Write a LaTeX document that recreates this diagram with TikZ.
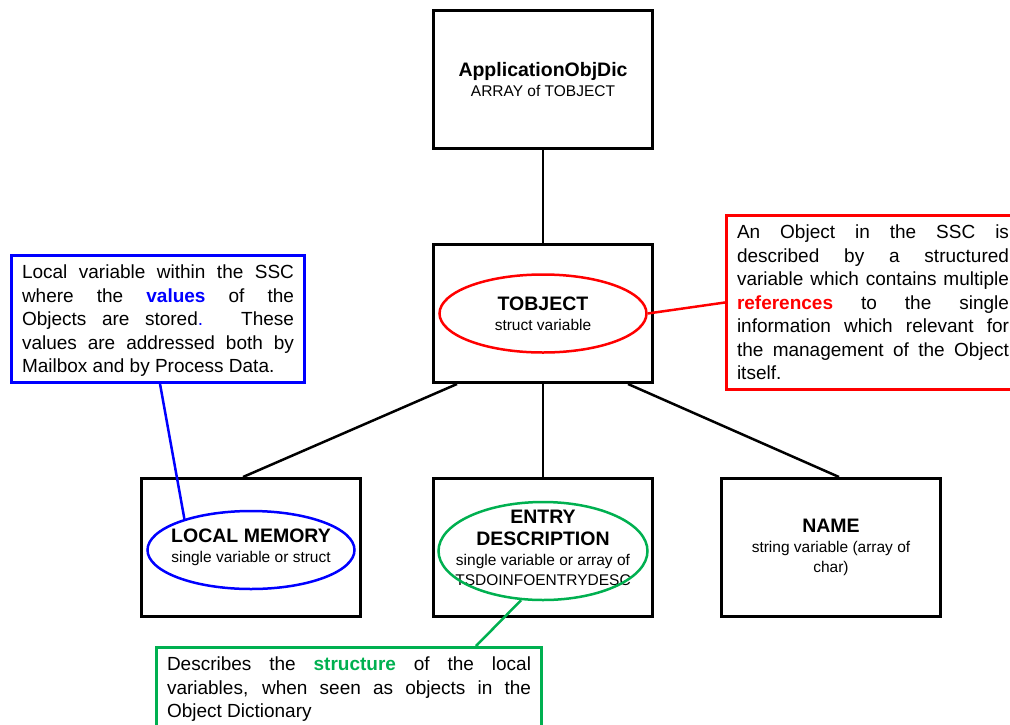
\documentclass[tikz,border=0pt]{standalone}
\usepackage{fontspec}
\setmainfont{Liberation Sans}
\usetikzlibrary{shapes.geometric,positioning}

\definecolor{noteblue}{RGB}{0,0,255}
\definecolor{notered}{RGB}{255,0,0}
\definecolor{notegreen}{RGB}{0,176,80}
\newcommand{\objtitle}[1]{{\fontsize{19.5}{22}\selectfont\bfseries #1}}

\begin{document}
\begin{tikzpicture}[x=1pt, y=1pt, node distance=70pt,
		every node/.style={font=\fontsize{15.5}{20}\selectfont},
		objbox/.style={rectangle, draw, line width=3pt, minimum width=219pt, minimum height=138pt, align=center},
		oval/.style={ellipse, draw, line width=2.5pt, minimum width=207pt, minimum height=78pt, inner sep=0pt},
		note/.style={rectangle, draw, line width=3pt, align=justify, text width=272pt, inner xsep=10.5pt, inner ysep=9.5pt, font=\fontsize{19}{23.5}\selectfont},
		link/.style={line width=2.5pt}]
				\useasboundingbox (0,0) rectangle (1010,-724);
				
				\node[objbox] (dic) at (543,-79.5) {\objtitle{ApplicationObjDic}\\ARRAY of TOBJECT};
				\node[objbox, below=93pt of dic] (tobj) {\objtitle{TOBJECT}\\struct variable};
				\node[objbox, below=93pt of tobj] (entry) {\objtitle{ENTRY}\\[2pt]\objtitle{DESCRIPTION}\\single variable or array of\\TSDOINFOENTRYDESC};
				\node[objbox, left=of entry] (locmem) {\objtitle{LOCAL MEMORY}\\single variable or struct};
				\node[objbox, right=66pt of entry] (name) {\objtitle{NAME}\\string variable (array of\\char)};
				
				\node[oval, draw=notered] (tobjoval) at (tobj) {};
				\node[oval, draw=noteblue] (memoval) at ([yshift=-2.5pt]locmem.center) {};
				\node[oval, draw=notegreen, minimum width=209pt, minimum height=98pt] (entryoval) at ([yshift=-3.5pt]entry.center) {};
				
				\draw[link] (dic.south) -- (tobj.north);
				\draw[link] ([xshift=25pt]tobj.south west) -- ([xshift=103pt]locmem.north west);
				\draw[link] (tobj.south) -- (entry.north);
				\draw[link] ([xshift=196pt]tobj.south west) -- ([xshift=119pt]name.north west);
				
				% Note
				\node[note, draw=noteblue, text depth=94pt, anchor=north west] (memnote) at (10,-254) {Local variable within the SSC\linebreak where the {\color{noteblue}\bfseries values} of the\linebreak Objects are stored{\color{noteblue}.} These\linebreak values are addressed both by\linebreak Mailbox and by Process Data.};
				\node[note, draw=notered, anchor=north west] (refnote) at (725,-214) {An Object in the SSC is\linebreak described by a structured\linebreak variable which contains multiple\linebreak {\color{notered}\bfseries references} to the single\linebreak information which relevant for\linebreak the management of the Object\linebreak itself.};
				\node[note, draw=notegreen, text width=364pt, anchor=north west] (structnote) at (155,-646) {Describes the {\color{notegreen}\bfseries structure} of the local\linebreak variables, when seen as objects in the\linebreak Object Dictionary};
				
				\draw[link, noteblue] ([xshift=150pt]memnote.south west) -- (memoval.155);
				\draw[link, notered] (tobjoval.east) -- (refnote.west);
				\draw[link, notegreen] ([xshift=321pt]structnote.north west) -- (entryoval.246);
			\end{tikzpicture}
\end{document}
